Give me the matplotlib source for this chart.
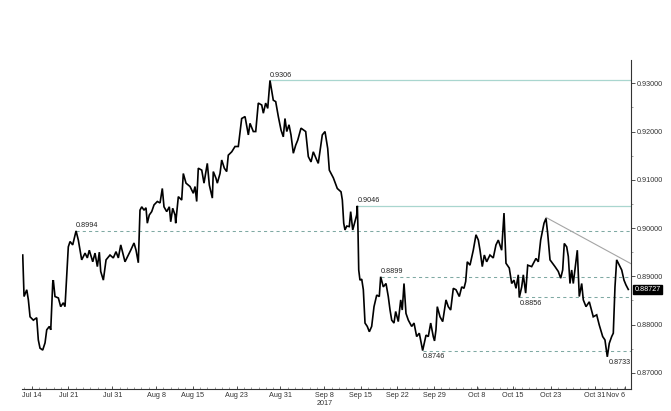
import matplotlib
matplotlib.use("Agg")
import matplotlib.pyplot as plt
from matplotlib.ticker import FixedLocator, MultipleLocator

FONT = ['Liberation Sans', 'DejaVu Sans']
plt.rcParams['font.family'] = FONT
FS = 5.2

# trading days since Jul 14 (weekends removed)
days = [-1.23, -1.05, -0.68, -0.46, -0.23, 0.22, 0.68, 0.90, 1.13, 1.50, 1.82, 2.05, 2.41, 2.60,
        2.87, 2.95, 3.18, 3.64, 3.96, 4.32, 4.55, 4.78, 5.00, 5.24, 5.60, 6.06, 6.37, 6.83, 7.29,
        7.60, 7.87, 8.34, 8.65, 8.97, 9.24, 9.43, 9.79, 10.16, 10.70, 11.15, 11.52, 11.84, 12.17,
        12.75, 13.20, 13.53, 13.98, 14.26, 14.57, 14.80, 15.04, 15.35, 15.62, 15.80, 16.07, 16.40,
        16.72, 17.17, 17.54, 17.85, 18.08, 18.45, 18.81, 19.00, 19.27, 19.59, 19.68, 20.04, 20.50,
        20.72, 21.09, 21.64, 22.09, 22.32, 22.55, 22.77, 23.24, 23.55, 24.00, 24.28, 24.69, 24.82,
        25.19, 25.37, 25.74, 25.97, 26.33, 26.65, 26.87, 27.34, 27.79, 28.24, 28.70, 29.16, 29.61,
        29.84, 30.29, 30.62, 30.97, 31.44, 31.66, 31.98, 32.26, 32.57, 33.02, 33.35, 33.71, 34.08,
        34.39, 34.62, 34.86, 35.17, 35.44, 35.76, 36.09, 36.36, 36.81, 37.45, 37.81, 38.18, 38.49,
        38.96, 39.17, 39.72, 40.09, 40.46, 40.68, 41.23, 41.77, 42.28, 42.46, 42.65, 42.82, 43.06,
        43.41, 43.60, 43.88, 44.42, 44.51, 44.60, 44.70, 44.87, 45.11, 45.33, 45.56, 45.87, 46.15,
        46.47, 46.79, 47.16, 47.51, 47.70, 48.06, 48.43, 48.74, 48.98, 49.21, 49.52, 49.75, 50.11,
        50.44, 50.65, 50.89, 51.16, 51.48, 51.94, 52.26, 52.62, 52.98, 53.44, 53.90, 54.21, 54.54,
        54.89, 55.06, 55.26, 55.44, 55.81, 56.18, 56.63, 56.94, 57.27, 57.63, 58.00, 58.45, 58.78,
        59.09, 59.32, 59.54, 59.91, 60.36, 60.73, 61.05, 61.28, 61.59, 61.87, 62.19, 62.64, 63.09,
        63.46, 63.78, 64.24, 64.56, 64.83, 65.28, 65.61, 65.92, 66.20, 66.51, 66.65, 66.98, 67.20,
        67.52, 67.80, 68.34, 68.93, 69.25, 69.57, 70.03, 70.30, 70.53, 70.85, 71.53, 71.98, 72.31,
        72.58, 72.80, 73.13, 73.35, 73.58, 73.81, 74.03, 74.58, 74.85, 75.18, 75.40, 75.77, 76.22,
        76.76, 77.23, 77.58, 78.05, 78.36, 78.68, 78.95, 79.28, 79.50, 79.73, 79.96, 80.32, 80.65,
        80.96, 81.23, 81.55]

prices = [0.8944, 0.8858, 0.8872, 0.8851, 0.8816, 0.8809, 0.8814, 0.8768, 0.8751, 0.8747, 0.8762,
          0.8789, 0.8796, 0.8789, 0.8886, 0.8892, 0.8858, 0.8855, 0.8837, 0.8845, 0.8837, 0.8899,
          0.8961, 0.8972, 0.8965, 0.8994, 0.8975, 0.8934, 0.8948, 0.8938, 0.8954, 0.8930, 0.8948,
          0.8920, 0.8950, 0.8910, 0.8892, 0.8934, 0.8944, 0.8938, 0.8951, 0.8938, 0.8965, 0.8930,
          0.8944, 0.8954, 0.8969, 0.8954, 0.8928, 0.9037, 0.9044, 0.9037, 0.9042, 0.9010, 0.9027,
          0.9034, 0.9048, 0.9055, 0.9052, 0.9082, 0.9044, 0.9034, 0.9044, 0.9013, 0.9041, 0.9027,
          0.9010, 0.9065, 0.9058, 0.9113, 0.9093, 0.9086, 0.9072, 0.9086, 0.9055, 0.9124, 0.9120,
          0.9093, 0.9134, 0.9089, 0.9062, 0.9117, 0.9103, 0.9093, 0.9113, 0.9141, 0.9124, 0.9117,
          0.9151, 0.9158, 0.9169, 0.9169, 0.9227, 0.9231, 0.9193, 0.9217, 0.9200, 0.9200, 0.9259,
          0.9255, 0.9238, 0.9259, 0.9248, 0.9306, 0.9265, 0.9262, 0.9231, 0.9203, 0.9189, 0.9227,
          0.9200, 0.9214, 0.9193, 0.9155, 0.9172, 0.9182, 0.9207, 0.9200, 0.9148, 0.9137, 0.9158,
          0.9141, 0.9134, 0.9193, 0.9200, 0.9165, 0.9120, 0.9104, 0.9082, 0.9075, 0.9058, 0.9010,
          0.8996, 0.9004, 0.9003, 0.9034, 0.8996, 0.9027, 0.9046, 0.8996, 0.8913, 0.8892, 0.8894,
          0.8872, 0.8803, 0.8796, 0.8785, 0.8796, 0.8837, 0.8861, 0.8858, 0.8899, 0.8878, 0.8885,
          0.8858, 0.8830, 0.8809, 0.8803, 0.8827, 0.8806, 0.8851, 0.8830, 0.8885, 0.8823, 0.8809,
          0.8796, 0.8803, 0.8775, 0.8782, 0.8746, 0.8778, 0.8775, 0.8803, 0.8775, 0.8766, 0.8789,
          0.8837, 0.8816, 0.8806, 0.8851, 0.8837, 0.8830, 0.8875, 0.8872, 0.8858, 0.8878, 0.8875,
          0.8889, 0.8930, 0.8923, 0.8954, 0.8986, 0.8975, 0.8954, 0.8920, 0.8944, 0.8930, 0.8944,
          0.8938, 0.8965, 0.8975, 0.8954, 0.9031, 0.8927, 0.8917, 0.8885, 0.8892, 0.8875, 0.8903,
          0.8856, 0.8878, 0.8903, 0.8865, 0.8923, 0.8920, 0.8937, 0.8930, 0.8975, 0.9010, 0.9020,
          0.8989, 0.8934, 0.8920, 0.8910, 0.8896, 0.8913, 0.8968, 0.8961, 0.8941, 0.8885, 0.8913,
          0.8885, 0.8954, 0.8858, 0.8885, 0.8851, 0.8837, 0.8847, 0.8816, 0.8820, 0.8799, 0.8775,
          0.8768, 0.8733, 0.8761, 0.8775, 0.8782, 0.8878, 0.8934, 0.8923, 0.8913, 0.8892, 0.8882,
          0.88727]

tick_pos = [0, 5, 11, 17, 22, 28, 34, 40, 45, 50, 55, 60.8, 65.8, 71, 77, 81.1]
tick_labels = ['Jul 14', 'Jul 21', 'Jul 31', 'Aug 8', 'Aug 15', 'Aug 23', 'Aug 31', 'Sep 8\n2017',
               'Sep 15', 'Sep 22', 'Sep 29', 'Oct 8', 'Oct 15', 'Oct 23', 'Oct 31', 'Nov 6']

y_ticks = [0.87, 0.88, 0.89, 0.90, 0.91, 0.92, 0.93]

# key levels: value, start day, style, label placement
level_values = [0.9306, 0.9046, 0.8994, 0.8899, 0.8856, 0.8746]
level_start = [32.57, 44.51, 6.06, 47.70, 66.65, 53.44]
level_solid = [True, True, False, False, False, False]
level_label_above = [True, True, True, True, False, False]
low_label_value = 0.8733
low_label_day = 78.68

trend_days = [70.30, 81.92]
trend_prices = [0.9022, 0.8926]

last_price = 0.88727

fig = plt.figure(figsize=(6.71, 4.11), dpi=100)
ax = fig.add_axes([22 / 671, 22 / 411, 609 / 671, 329 / 411])

x_min, x_max = -1.33, 81.92
y_min, y_max = 0.86663, 0.93483

solid_col = '#a9d6cf'
dash_col = '#7fa9a3'
for v, s, solid, above in zip(level_values, level_start, level_solid, level_label_above):
    if solid:
        ax.plot([s, x_max], [v, v], color=solid_col, lw=0.9, solid_capstyle='butt', zorder=1)
    else:
        ax.plot([s, x_max], [v, v], color=dash_col, lw=0.75, ls=(0, (3, 3)), zorder=1)
    if above:
        ax.annotate(f'{v:.4f}', xy=(s, v), xytext=(0, 1.2), textcoords='offset points',
                    ha='left', va='bottom', fontsize=FS, color='#222222', family=FONT)
    else:
        ax.annotate(f'{v:.4f}', xy=(s, v), xytext=(0, -1.5), textcoords='offset points',
                    ha='left', va='top', fontsize=FS, color='#222222', family=FONT)

ax.annotate(f'{low_label_value:.4f}', xy=(low_label_day, low_label_value), xytext=(1, -1.5),
            textcoords='offset points', ha='left', va='top', fontsize=FS, color='#222222',
            family=FONT)

ax.plot(trend_days, trend_prices, color='#a5a5a5', lw=0.8, zorder=1)

ax.plot(days, prices, color='black', lw=1.2, zorder=3, solid_joinstyle='miter')

ax.set_xlim(x_min, x_max)
ax.set_ylim(y_min, y_max)

for side in ['top', 'left']:
    ax.spines[side].set_visible(False)
ax.spines['bottom'].set_color('#333333')
ax.spines['right'].set_color('#333333')
ax.spines['bottom'].set_linewidth(0.8)
ax.spines['right'].set_linewidth(0.8)

ax.yaxis.tick_right()
ax.yaxis.set_major_locator(FixedLocator(y_ticks))
ax.set_yticklabels([f'{t:.5f}' for t in y_ticks])
ax.yaxis.set_minor_locator(MultipleLocator(0.005))
ax.tick_params(axis='y', which='major', direction='out', length=3, width=0.6, colors='#333333',
               labelsize=FS, pad=1)
ax.tick_params(axis='y', which='minor', direction='out', length=1.5, width=0.5, colors='#777777')

ax.xaxis.set_major_locator(FixedLocator(tick_pos))
ax.set_xticklabels(tick_labels)
ax.xaxis.set_minor_locator(MultipleLocator(1))
ax.tick_params(axis='x', which='major', direction='in', length=2.5, width=0.6, colors='#333333',
               labelsize=FS, pad=2)
ax.tick_params(axis='x', which='minor', direction='in', length=1.5, width=0.5, colors='#777777')
for lab in ax.get_xticklabels():
    if lab.get_text() == 'Nov 6':
        lab.set_horizontalalignment('right')

ax.annotate(f'{last_price:.5f}', xy=(1, last_price), xycoords=('axes fraction', 'data'),
            xytext=(2.5, 0), textcoords='offset points', ha='left', va='center',
            fontsize=FS, color='white', family=FONT,
            bbox=dict(boxstyle='square,pad=0.15', fc='black', ec='black'))

fig.savefig('out.png', dpi=100)
